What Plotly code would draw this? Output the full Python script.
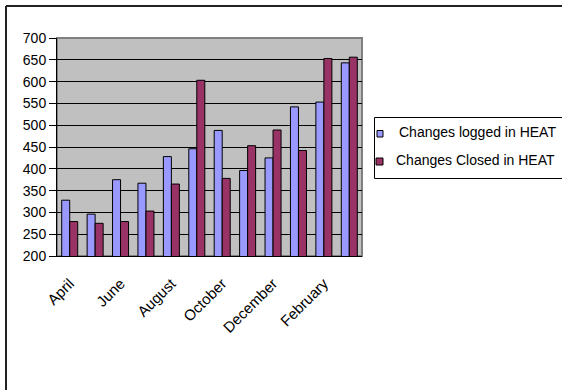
import plotly.graph_objects as go

months = ["April", "May", "June", "July", "August", "September",
          "October", "November", "December", "January", "February", "March"]
logged = [328, 296, 375, 367, 428, 446, 488, 396, 425, 542, 553, 643]
closed = [279, 275, 279, 303, 365, 603, 378, 453, 489, 442, 653, 656]
series_names = ["Changes logged in HEAT", "Changes Closed in HEAT"]
series_colors = ["#9999FF", "#993366"]
label_months = months[::2]

FONT = "Liberation Sans, Arial, sans-serif"

# plot-area pixel frame (for placing the hand-drawn legend & chart border)
L, R, T, B = 57, 362, 38, 256


def px(xp):
    return (xp - L) / (R - L)


def py(yp):
    return (B - yp) / (B - T)


fig = go.Figure()
for name, vals, col in zip(series_names, [logged, closed], series_colors):
    fig.add_trace(go.Bar(x=months, y=vals, name=name, showlegend=False,
                         marker=dict(color=col, line=dict(color="black", width=1))))

shapes = [
    dict(type="rect", xref="paper", yref="paper", x0=0, x1=1, y0=0, y1=1,
         line=dict(color="#808080", width=2), layer="below"),
    dict(type="line", xref="paper", yref="paper", x0=px(6), x1=px(600),
         y0=py(6), y1=py(6), line=dict(color="#222222", width=2)),
    dict(type="line", xref="paper", yref="paper", x0=px(6), x1=px(6),
         y0=py(6), y1=py(420), line=dict(color="#222222", width=2)),
    # legend box
    dict(type="rect", xref="paper", yref="paper", x0=px(374.5), x1=px(620),
         y0=py(117.5), y1=py(178.5), line=dict(color="black", width=1),
         fillcolor="white"),
]
annotations = []
rows = [(377, 383, 130.5, 137, 397, 132), (376, 383, 158, 165, 394, 160)]
for (mx0, mx1, my0, my1, tx, ty), name, col in zip(rows, series_names, series_colors):
    shapes.append(dict(type="rect", xref="paper", yref="paper",
                       x0=px(mx0), x1=px(mx1), y0=py(my0), y1=py(my1),
                       line=dict(color="black", width=1), fillcolor=col))
    annotations.append(dict(xref="paper", yref="paper", x=px(tx), y=py(ty),
                            xanchor="left", yanchor="middle", text=name,
                            showarrow=False, font=dict(size=14)))

fig.update_layout(
    width=562, height=390,
    margin=dict(l=L, r=562 - R, t=T, b=390 - B, autoexpand=False),
    paper_bgcolor="white", plot_bgcolor="#C0C0C0",
    font=dict(family=FONT, size=14, color="black"),
    barmode="group", bargap=0.37, bargroupgap=0,
    showlegend=False,
    xaxis=dict(type="category", range=[-0.5, 11.5], tickmode="array",
               tickvals=label_months, ticktext=label_months, ticks="",
               tickangle=-45, showgrid=False, showline=True, linecolor="black",
               linewidth=1, tickfont=dict(size=15), ticklabelstandoff=12),
    xaxis2=dict(overlaying="x", anchor="y", range=[-0.5, 11.5], tickmode="array",
                tickvals=[i - 0.5 for i in range(13)], ticks="outside", ticklen=5,
                tickcolor="black", showticklabels=False, showgrid=False,
                zeroline=False, showline=False),
    yaxis=dict(range=[200, 700], dtick=50, ticks="outside", ticklen=7,
               tickcolor="black", showgrid=True, gridcolor="black", gridwidth=1,
               showline=True, linecolor="black", linewidth=1, zeroline=False,
               tickfont=dict(size=14)),
    shapes=shapes,
    annotations=annotations,
)

fig.write_html("out.html")
